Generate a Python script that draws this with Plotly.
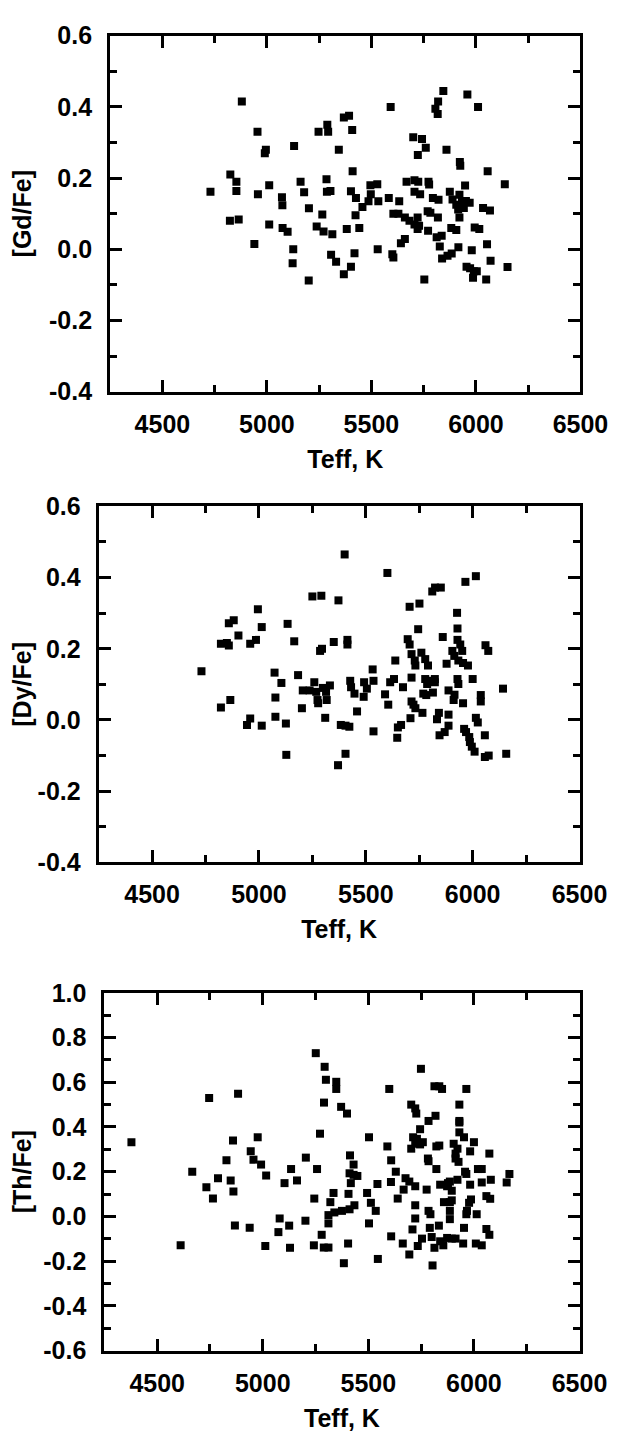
import plotly.graph_objects as go

# [Gd/Fe] vs Teff
gd_teff = [4880, 4955, 4990, 4995, 5130, 5247, 5289, 5293, 5344, 5368, 5393, 5408, 5592, 5700, 5742, 5760,
           5722, 5844, 5819, 5806, 5817, 5959, 6010, 5859, 5923, 5925,
           4730, 4825, 4854, 4854, 4823, 4865, 4940, 4957, 5011, 5011, 5072, 5074, 5075, 5099, 5126, 5123,
           5161, 5178, 5201, 5200, 5265, 5238, 5271, 5313, 5285, 5287, 5304, 5307, 5331, 5368, 5402, 5382,
           5410, 5402, 5426, 5424, 5419, 5442, 5457, 5486, 5497, 5495, 5528, 5533, 5530, 5583, 5605, 5629,
           5600, 5605, 5633, 5641, 5660, 5668, 5660, 5682, 5706, 5724, 5706, 5733, 5706, 5721, 5721, 5728,
           5773, 5776, 5769, 5782, 5794, 5821, 5771, 5753, 5812, 5836, 5818, 5827, 5838, 5864, 5884, 5875,
           5882, 5906, 5916, 5888, 5906, 5921, 5933, 5942, 5915, 5952, 5970, 5921, 5948, 5980, 5955, 5972,
           5990, 6004, 5986, 5994, 6016, 6034, 6056, 6053, 6049, 6067, 6070, 6138, 6151]
gd_val = [0.415, 0.33, 0.27, 0.28, 0.29, 0.33, 0.35, 0.33, 0.28, 0.37, 0.375, 0.335, 0.40, 0.315, 0.31, 0.285,
          0.265, 0.445, 0.415, 0.395, 0.38, 0.435, 0.40, 0.28, 0.245, 0.235,
          0.162, 0.21, 0.19, 0.164, 0.08, 0.084, 0.015, 0.155, 0.18, 0.07, 0.146, 0.124, 0.06, 0.049, 0.0, -0.039,
          0.19, 0.16, 0.115, -0.088, 0.098, 0.064, 0.05, 0.042, 0.197, 0.162, 0.164, -0.015, -0.035, -0.07, -0.049, 0.057,
          0.219, 0.163, 0.144, 0.096, -0.011, 0.06, 0.119, 0.135, 0.155, 0.18, 0.183, 0.135, 0.0, 0.144, 0.1, 0.1,
          -0.014, -0.023, 0.135, 0.017, 0.029, 0.19, 0.089, 0.08, 0.194, 0.19, 0.162, 0.155, 0.07, 0.089, 0.057, 0.066,
          0.19, 0.182, 0.107, 0.103, 0.144, 0.139, 0.052, -0.085, 0.034, 0.038, 0.089, 0.008, -0.026, -0.018, -0.012, 0.162,
          0.06, 0.054, 0.006, 0.14, 0.125, 0.153, 0.134, 0.116, 0.112, 0.136, 0.131, 0.089, 0.179, -0.003, -0.049, -0.053,
          -0.062, -0.062, -0.08, 0.061, 0.057, 0.116, 0.219, 0.014, -0.085, 0.109, -0.032, 0.183, -0.05]

# [Dy/Fe] vs Teff
dy_teff = [5401, 5601, 5966, 6015, 5811, 5824, 5851, 5751, 5705, 5250, 5292, 5372, 4995, 4882, 4859, 5134,
           5013, 5745, 5927, 5929, 5860, 4904, 4822, 4850, 4859, 4959, 4986, 5165, 5350, 5414, 5414, 5696,
           5705, 5286, 5295, 5929, 5942, 5951, 6060, 6073, 5905, 5914, 5878, 5714, 5729, 5732, 5760, 5778,
           5791, 5638, 5933, 5955, 5978, 5532, 4731, 5073, 5183,
           5105, 5077, 5077, 5126, 5128, 4822, 4866, 4944, 4959, 5013, 5205, 5237, 5259, 5268, 5274, 5277,
           5201, 5299, 5314, 5332, 5317, 5310, 5427, 5431, 5447, 5492, 5505, 5490, 5459, 5383, 5405, 5423,
           5405, 5370, 5536, 5536, 5590, 5605, 5614, 5632, 5674, 5650, 5665, 5647, 5714, 5714, 5723, 5732,
           5709, 5765, 5778, 5787, 5805, 5823, 5823, 5769, 5783, 5814, 5833, 5842, 5845, 5869, 5887, 5887,
           5887, 5915, 5911, 5929, 5933, 5955, 5960, 5969, 5984, 5987, 5996, 6009, 6000, 6015, 6024, 6038,
           6038, 6057, 6057, 6075, 6142, 6157]
dy_val = [0.465, 0.413, 0.388, 0.404, 0.361, 0.372, 0.372, 0.327, 0.318, 0.347, 0.349, 0.336, 0.311, 0.28, 0.272, 0.27,
          0.261, 0.255, 0.301, 0.257, 0.233, 0.237, 0.214, 0.216, 0.209, 0.214, 0.225, 0.221, 0.219, 0.225, 0.212, 0.227,
          0.212, 0.194, 0.2, 0.225, 0.212, 0.194, 0.21, 0.194, 0.194, 0.18, 0.158, 0.185, 0.167, 0.153, 0.189, 0.171,
          0.153, 0.167, 0.167, 0.16, 0.153, 0.142, 0.137, 0.133, 0.126,
          0.104, 0.063, 0.009, -0.01, -0.098, 0.035, 0.056, -0.014, 0.004, -0.016, 0.083, 0.083, 0.106, 0.079, 0.056, 0.047,
          0.033, 0.09, 0.079, 0.097, 0.056, 0.006, 0.11, 0.092, 0.074, 0.106, 0.088, 0.065, 0.024, -0.014, -0.016, -0.019,
          -0.095, -0.127, 0.11, -0.032, 0.072, 0.043, 0.106, 0.115, 0.092, -0.021, -0.014, -0.05, 0.119, 0.052, 0.043, 0.033,
          0.005, 0.02, 0.115, 0.101, 0.11, 0.115, 0.106, 0.074, 0.07, 0.077, 0.002, 0.02, -0.043, -0.034, 0.015, -0.016,
          0.083, 0.071, 0.056, 0.115, 0.101, 0.047, -0.025, -0.034, -0.048, -0.062, -0.075, -0.089, 0.115, 0.006, -0.007, 0.07,
          0.052, -0.043, -0.104, -0.1, 0.088, -0.095]

# [Th/Fe] vs Teff
th_teff = [5251, 5293, 5299, 5348, 5348, 5290, 5371, 5399, 5749, 5599, 5813, 5836, 5849, 5964, 5931, 5703,
           5722, 5727, 5818, 5785, 5931, 5931, 5745, 4746, 4883, 5271,
           4378, 4859, 4976, 5503, 5931, 5953, 5712, 5730, 5590, 5703, 5722, 5758, 5745, 5822, 5836, 5904,
           5922, 5913, 6000, 5982, 6073, 4943, 4956, 4992, 4828, 5204, 5413, 5430, 5411, 5430, 5448, 5608,
           5782, 5785, 5913, 5927, 4666, 5016, 5134, 5257, 5630, 5822, 5958, 5964, 6019, 6037, 6168, 6155,
           6080, 6037, 5982, 5922, 5877, 5886, 5840, 5873, 5895, 5776, 5676, 5694, 5722, 5667, 5607, 5543,
           5494, 5417, 5406, 5335, 5320, 5244, 5162, 5103, 4788, 4733, 4848, 4861, 4764, 5639, 5722, 5512,
           5434, 5411, 5375, 5339, 5311, 5311, 5535, 5785, 5794, 5858, 5886, 5895, 5886, 5886, 5967, 5977,
           5986, 5964, 6013, 6059, 6077, 5722, 5080, 5125, 5202, 4868, 4938, 5074, 5503, 5709, 5791, 5834,
           5953, 6059, 6073, 5279, 5608, 5754, 5800, 5840, 5873, 5913, 5895, 5663, 5734, 5855, 5813, 5949,
           6009, 6037, 4611, 5012, 5129, 5242, 5289, 5311, 5404, 5384, 5545, 5694, 5804]
th_val = [0.73, 0.669, 0.611, 0.602, 0.57, 0.509, 0.49, 0.46, 0.66, 0.57, 0.582, 0.582, 0.57, 0.57, 0.5, 0.5,
          0.483, 0.46, 0.45, 0.427, 0.427, 0.42, 0.39, 0.53, 0.548, 0.37,
          0.332, 0.339, 0.354, 0.354, 0.376, 0.354, 0.354, 0.347, 0.313, 0.303, 0.325, 0.332, 0.322, 0.313, 0.317, 0.325,
          0.303, 0.281, 0.332, 0.291, 0.281, 0.292, 0.254, 0.232, 0.251, 0.263, 0.273, 0.232, 0.193, 0.186, 0.181, 0.251,
          0.259, 0.247, 0.259, 0.244, 0.2, 0.183, 0.212, 0.212, 0.2, 0.212, 0.2, 0.19, 0.212, 0.212, 0.19, 0.152,
          0.164, 0.152, 0.142, 0.164, 0.149, 0.156, 0.142, 0.135, 0.115, 0.12, 0.171, 0.156, 0.135, 0.12, 0.154, 0.145,
          0.105, 0.149, 0.101, 0.105, 0.064, 0.08, 0.161, 0.149, 0.171, 0.13, 0.161, 0.111, 0.08, 0.08, 0.05, 0.061,
          0.05, 0.032, 0.025, 0.018, 0.006, -0.031, 0.025, 0.025, 0.01, 0.064, 0.064, 0.072, 0.025, -0.012, 0.025, 0.061,
          0.076, 0.01, 0.01, 0.091, 0.079, -0.009, -0.009, -0.041, -0.019, -0.041, -0.051, -0.07, -0.031, -0.058, -0.051, -0.041,
          -0.051, -0.056, -0.082, -0.082, -0.089, -0.099, -0.092, -0.111, -0.096, -0.099, -0.099, -0.121, -0.132, -0.129, -0.14, -0.121,
          -0.121, -0.129, -0.129, -0.132, -0.14, -0.129, -0.139, -0.139, -0.121, -0.209, -0.19, -0.17, -0.219]

# tick labels (plain hyphen for negatives, as in the original)
y_ticks_gd = [-0.4, -0.2, 0.0, 0.2, 0.4, 0.6]
y_ticks_th = [-0.6, -0.4, -0.2, 0.0, 0.2, 0.4, 0.6, 0.8, 1.0]

W, H = 631, 1441
FONT = "Liberation Sans, Arial, sans-serif"

panels = [
    (gd_teff, gd_val, "[Gd/Fe]", [-0.4, 0.6], y_ticks_gd, (106, 599, 14, 377)),
    (dy_teff, dy_val, "[Dy/Fe]", [-0.4, 0.6], y_ticks_gd, (94, 598, 494, 857)),
    (th_teff, th_val, "[Th/Fe]", [-0.6, 1.0], y_ticks_th, (100, 598, 990, 1355)),
]

fig = go.Figure()
layout = {}
for i, (xs, ys, ytitle, yrange, yticks, (x0, x1, y0, y1)) in enumerate(panels, start=1):
    sfx = "" if i == 1 else str(i)
    fig.add_trace(
        go.Scatter(
            x=xs, y=ys, mode="markers",
            marker=dict(symbol="square", size=8, color="black"),
            xaxis=f"x{sfx}", yaxis=f"y{sfx}", showlegend=False,
        )
    )
    common = dict(
        showline=True, linecolor="black", linewidth=3, mirror="ticks",
        ticks="inside", ticklen=12, tickwidth=3, tickcolor="black",
        showgrid=False, zeroline=False,
        tickfont=dict(family=FONT, size=25, color="black", weight="bold"),
    )
    title_font = dict(family=FONT, size=25, color="black", weight="bold")
    layout[f"xaxis{sfx}"] = dict(
        common,
        domain=[x0 / W, x1 / W],
        anchor=f"y{sfx}",
        range=[4250, 6500], tick0=4500, dtick=500,
        ticklabelstandoff=8,
        minor=dict(ticks="inside", ticklen=7, tickwidth=3, tickcolor="black", dtick=250, tick0=4250),
        title=dict(text="Teff, K", font=title_font, standoff=14),
    )
    layout[f"yaxis{sfx}"] = dict(
        common,
        domain=[1 - y1 / H, 1 - y0 / H],
        anchor=f"x{sfx}",
        range=yrange,
        tickmode="array", tickvals=yticks, ticktext=[f"{v:.1f}" for v in yticks],
        ticklabelstandoff=10,
        minor=dict(tickmode="linear", ticks="inside", ticklen=7, tickwidth=3, tickcolor="black", dtick=0.1, tick0=0),
        title=dict(text=ytitle, font=title_font, standoff=12),
    )

fig.update_layout(
    width=W, height=H,
    margin=dict(l=0, r=0, t=0, b=0),
    paper_bgcolor="white", plot_bgcolor="white",
    **layout,
)

fig.write_html("out.html")
